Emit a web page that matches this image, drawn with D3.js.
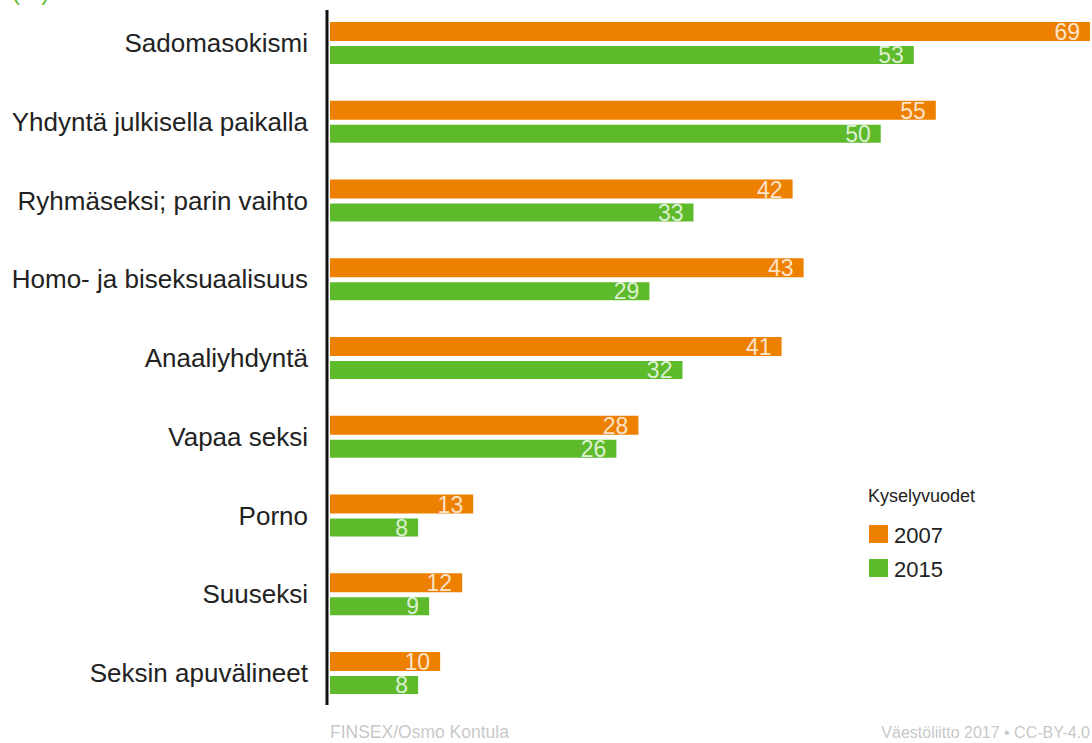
<!DOCTYPE html>
<html>
<head>
<meta charset="utf-8">
<script src="https://cdn.jsdelivr.net/npm/d3@7"></script>
<style>
  body { margin: 0; background: #fff; }
  svg { display: block; font-family: "Liberation Sans", Arial, sans-serif; }
</style>
</head>
<body>
<script>
// Data
var categories = ["Sadomasokismi", "Yhdyntä julkisella paikalla", "Ryhmäseksi; parin vaihto",
  "Homo- ja biseksuaalisuus", "Anaaliyhdyntä", "Vapaa seksi", "Porno", "Suuseksi", "Seksin apuvälineet"];
var years = ["2007", "2015"];
var values2007 = [69, 55, 42, 43, 41, 28, 13, 12, 10];
var values2015 = [53, 50, 33, 29, 32, 26, 8, 9, 8];
var colors = ["#ee8000", "#5dba2b"];

var svgWidth = 1092, svgHeight = 743;

var svg = d3.select("body").append("svg")
  .attr("width", svgWidth)
  .attr("height", svgHeight);

// scales
var x = d3.scaleLinear().domain([0, 69]).range([330, 1090]);
var y = d3.scaleBand().domain(categories).range([22, 22 + 78.75 * categories.length]).padding(0);
var sub = d3.scaleOrdinal().domain(years).range([0, 24]);
var barH = { "2007": 19, "2015": 18 };

// cut-off unit at top left (only its bottom edge shows)
svg.append("text")
  .attr("x", 12).attr("y", 0)
  .attr("fill", "#5dba2b")
  .style("font-size", "24px")
  .text("(%)");

var rows = categories.map(function(c, i) {
  return { cat: c, vals: [{ year: "2007", v: values2007[i] }, { year: "2015", v: values2015[i] }] };
});

var groups = svg.selectAll("g.row").data(rows).enter()
  .append("g").attr("class", "row")
  .attr("transform", d => `translate(0, ${y(d.cat)})`);

groups.selectAll("rect").data(d => d.vals).enter()
  .append("rect")
  .attr("x", x(0))
  .attr("y", d => sub(d.year))
  .attr("width", d => x(d.v) - x(0))
  .attr("height", d => barH[d.year])
  .attr("fill", (d, i) => colors[i]);

groups.selectAll("text.val").data(d => d.vals).enter()
  .append("text").attr("class", "val")
  .attr("x", d => x(d.v) - 10)
  .attr("y", d => sub(d.year) + barH[d.year] - 1)
  .attr("text-anchor", "end")
  .attr("fill", "#fff")
  .attr("fill-opacity", 0.8)
  .style("font-size", "23px")
  .text(d => d.v);

// category labels
groups.append("text")
  .attr("x", 308)
  .attr("y", 30)
  .attr("text-anchor", "end")
  .attr("fill", "#222")
  .style("font-size", "26px")
  .text(d => d.cat);

// axis line
svg.append("line")
  .attr("x1", 327).attr("x2", 327)
  .attr("y1", 10).attr("y2", 705)
  .attr("stroke", "#111").attr("stroke-width", 3);

// legend
var legend = svg.append("g").attr("transform", "translate(866, 0)");
legend.append("text")
  .attr("x", 2).attr("y", 502)
  .attr("fill", "#222")
  .style("font-size", "18px")
  .text("Kyselyvuodet");
years.forEach(function(yr, i) {
  legend.append("rect")
    .attr("x", 3).attr("y", 525 + i * 34)
    .attr("width", 19).attr("height", 18)
    .attr("fill", colors[i]);
  legend.append("text")
    .attr("x", 28).attr("y", 543 + i * 34)
    .attr("fill", "#222")
    .style("font-size", "22px")
    .text(yr);
});

// footer
svg.append("text")
  .attr("x", 330).attr("y", 738)
  .attr("fill", "#c8c8c8")
  .style("font-size", "17.5px")
  .text("FINSEX/Osmo Kontula");
svg.append("text")
  .attr("x", 1090).attr("y", 738)
  .attr("text-anchor", "end")
  .attr("fill", "#c8c8c8")
  .style("font-size", "16px")
  .text("Väestöliitto 2017 • CC-BY-4.0");
</script>
</body>
</html>
